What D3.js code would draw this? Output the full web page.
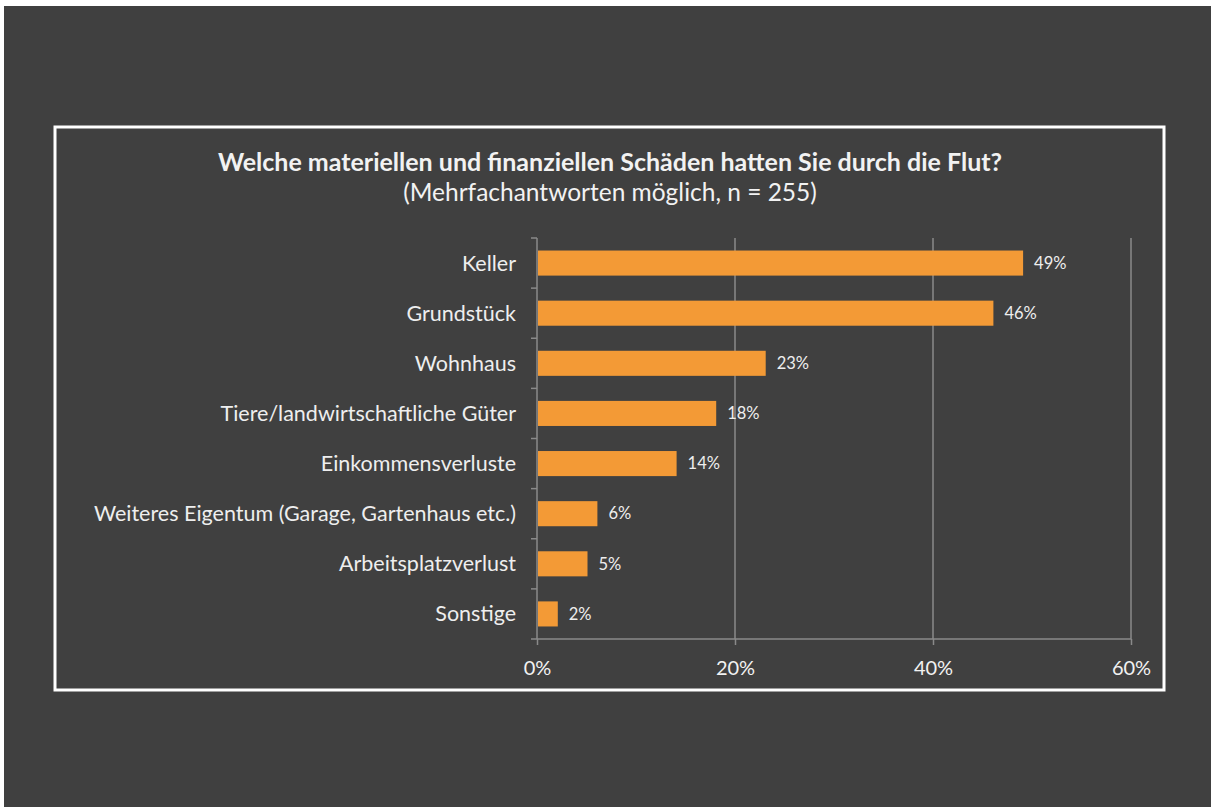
<!DOCTYPE html>
<html>
<head>
<meta charset="utf-8">
<script src="https://cdn.jsdelivr.net/npm/d3@7"></script>
<style>
  body { margin: 0; background: #ffffff; }
  svg { display: block; }
  text { font-family: Lato, "Open Sans", sans-serif; }
</style>
</head>
<body>
<svg></svg>
<script>

var categories = ["Keller", "Grundstück", "Wohnhaus", "Tiere/landwirtschaftliche Güter",
    "Einkommensverluste", "Weiteres Eigentum (Garage, Gartenhaus etc.)", "Arbeitsplatzverlust", "Sonstige"];
var values = [49, 46, 23, 18, 14, 6, 5, 2];
var xTicks = [0, 20, 40, 60];

var width = 1211, height = 807;

var svg = d3.select("svg")
    .attr("width", width)
    .attr("height", height);

// dark background, white strip at top/left like the scan
svg.append("rect")
    .attr("x", 4).attr("y", 6)
    .attr("width", width - 4)
    .attr("height", height - 6)
    .attr("fill", "#404040");

// white frame
svg.append("rect")
    .attr("x", 55).attr("y", 127)
    .attr("width", 1109).attr("height", 563)
    .attr("fill", "none")
    .style("stroke", "#ffffff")
    .style("stroke-width", 3);

svg.append("text")
    .attr("x", 610).attr("y", 171)
    .attr("text-anchor", "middle")
    .attr("fill", "#f2f2f2")
    .style("font-size", "25px")
    .style("font-weight", "bold")
    .text("Welche materiellen und finanziellen Schäden hatten Sie durch die Flut?");

svg.append("text")
    .attr("x", 610).attr("y", 201)
    .attr("text-anchor", "middle")
    .attr("fill", "#f2f2f2")
    .style("font-size", "24.5px")
    .text("(Mehrfachantworten möglich, n = 255)");

var plotLeft = 537, plotRight = 1131, plotTop = 238, plotBottom = 639;

var xScale = d3.scaleLinear()
    .domain([0, 60])
    .range([plotLeft, plotRight]);

var yScale = d3.scaleBand()
    .domain(categories)
    .range([plotTop, plotBottom])
    .paddingInner(0.5)
    .paddingOuter(0.25);

var gridColor = "#8a8a8a";

// vertical gridlines
svg.append("g")
    .selectAll("line")
    .data(xTicks.slice(1))
    .enter().append("line")
    .attr("x1", function(d) { return xScale(d); })
    .attr("x2", function(d) { return xScale(d); })
    .attr("y1", plotTop)
    .attr("y2", plotBottom)
    .style("stroke", gridColor)
    .style("stroke-width", 1.5);

// x axis
var x_axis = d3.axisBottom(xScale)
    .tickValues(xTicks)
    .tickSize(6)
    .tickPadding(16)
    .tickFormat(function(d) { return d + "%"; });

var gx = svg.append("g")
    .attr("transform", "translate(0," + plotBottom + ")")
    .call(x_axis);
gx.select(".domain").attr("stroke", gridColor).attr("stroke-width", 1.5)
    .attr("d", "M" + (plotLeft - 6) + ",0H" + plotRight);
gx.selectAll(".tick line").attr("stroke", gridColor).attr("stroke-width", 1.5);
gx.selectAll(".tick text")
    .attr("fill", "#f2f2f2")
    .style("font-size", "20px")
    .style("font-family", "Lato, 'Open Sans', sans-serif");

// y axis line with ticks at category boundaries
var step = yScale.step();
var boundaries = d3.range(categories.length + 1).map(function(i) { return plotTop + i * step; });

svg.append("line")
    .attr("x1", plotLeft).attr("x2", plotLeft)
    .attr("y1", plotTop).attr("y2", plotBottom)
    .style("stroke", gridColor)
    .style("stroke-width", 1.5);

svg.append("g")
    .selectAll("line")
    .data(boundaries.slice(0, -1))
    .enter().append("line")
    .attr("x1", plotLeft - 6).attr("x2", plotLeft)
    .attr("y1", function(d) { return d; })
    .attr("y2", function(d) { return d; })
    .style("stroke", gridColor)
    .style("stroke-width", 1.5);

// bars
svg.append("g")
    .selectAll("rect")
    .data(values)
    .enter().append("rect")
    .attr("x", xScale(0) + 1)
    .attr("y", function(d, i) { return yScale(categories[i]); })
    .attr("width", function(d) { return xScale(d) - xScale(0); })
    .attr("height", yScale.bandwidth())
    .attr("fill", "#f39a36");

// category labels
svg.append("g")
    .selectAll("text")
    .data(categories)
    .enter().append("text")
    .attr("x", 516)
    .attr("y", function(d) { return yScale(d) + yScale.bandwidth() / 2; })
    .attr("dy", "0.35em")
    .attr("text-anchor", "end")
    .attr("fill", "#eeeeee")
    .style("font-size", "21.5px")
    .text(function(d) { return d; });

// value labels
svg.append("g")
    .selectAll("text")
    .data(values)
    .enter().append("text")
    .attr("x", function(d) { return xScale(d) + 12; })
    .attr("y", function(d, i) { return yScale(categories[i]) + yScale.bandwidth() / 2; })
    .attr("dy", "0.35em")
    .attr("fill", "#eeeeee")
    .style("font-size", "16.5px")
    .text(function(d) { return d + "%"; });

</script>
</body>
</html>
